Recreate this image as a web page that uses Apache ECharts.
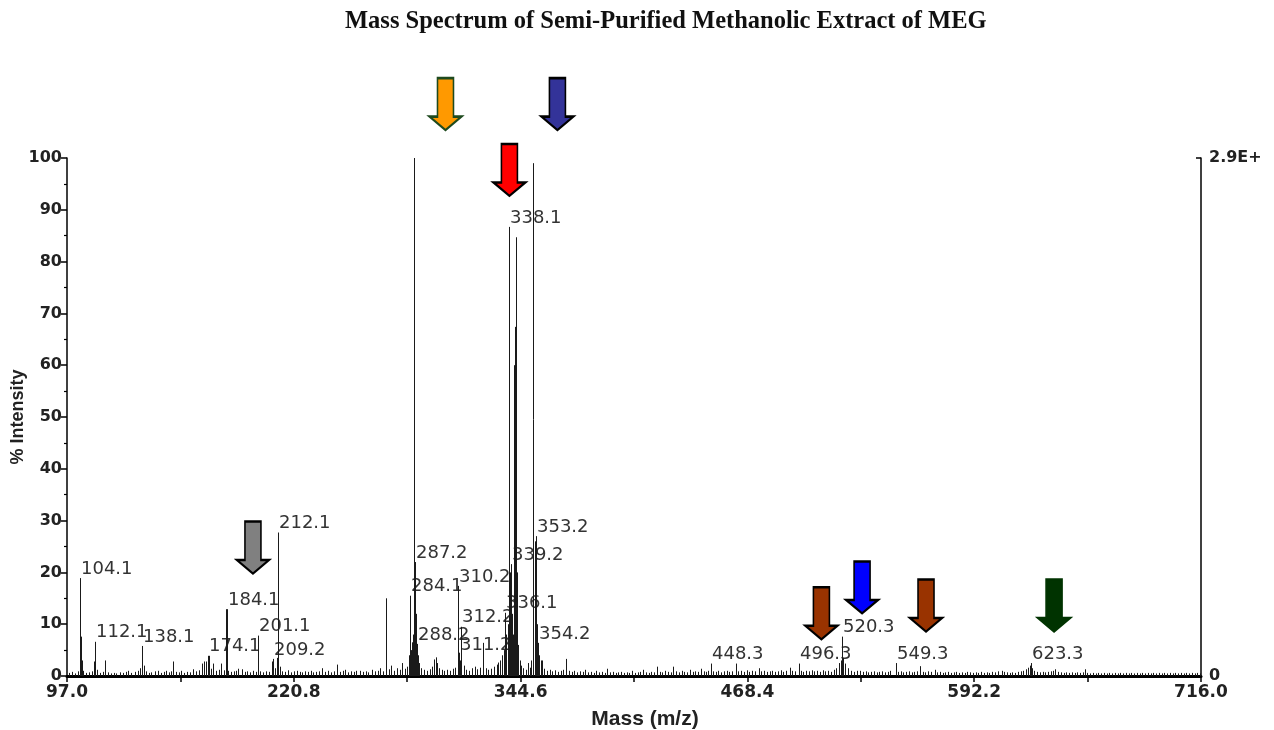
<!DOCTYPE html>
<html><head><meta charset="utf-8">
<script src="https://cdn.jsdelivr.net/npm/echarts@6/dist/echarts.min.js"></script>
<style>html,body{margin:0;padding:0;background:#fff}#c{width:1274px;height:730px}</style>
</head><body><div id="c"></div>
<script>
const chartTitle = 'Mass Spectrum of Semi-Purified Methanolic Extract of MEG';
const xName = 'Mass (m/z)';
const yName = '% Intensity';
const xTickValues = [97.0,158.9,220.8,282.7,344.6,406.5,468.4,530.3,592.2,654.1,716.0];
const xLabelValues = [97.0,220.8,344.6,468.4,592.2,716.0];
const rightAxisTop = '2.9E+';

// labelled peaks (m/z, % intensity)
const labelMass = [104.1,112.1,138.1,174.1,184.1,201.1,209.2,212.1,284.1,287.2,288.2,310.2,311.2,312.2,336.1,338.1,339.2,353.2,354.2,448.3,496.3,520.3,549.3,623.3];
const labelIntensity = [18.9,6.6,5.8,3.9,12.9,7.8,3.3,27.7,15.5,22.0,6.2,17.4,4.2,9.5,12.2,86.7,21.6,27.0,6.4,2.4,2.4,7.6,2.5,2.5];

// other resolved peaks (m/z, % intensity)
const majorPeaks = [
  [104.6,7.6],[105.2,3.0],[111.9,2.8],[117.9,3.0],[138.9,2.0],[155.0,2.8],[166.0,1.3],
  [174.3,3.9],[183.8,12.9],[211.6,3.5],[271.3,15.0],
  [283.5,4.0],[284.6,5.0],[285.2,6.5],[285.8,8.0],[286.4,100],[286.8,21.0],[287.7,12.0],[288.7,4.0],[289.3,2.5],
  [310.8,4.5],[311.7,3.0],
  [333.5,3.0],[334.5,4.0],[335.3,5.0],[336.8,8.0],[337.5,10.0],[338.6,20.0],[339.8,12.0],[340.5,8.0],
  [340.8,30.0],[341.1,60.0],[341.2,20.0],[341.6,67.4],[342.0,84.7],[342.5,20.0],[343.2,6.0],[344.0,3.0],[345.0,2.0],
  [350.5,3.0],[351.2,8.0],[351.6,99.0],[352.2,26.0],[352.7,20.0],[353.7,10.0],[354.8,4.0],[355.5,3.0],
  [520.8,3.5]
];

// baseline / minor peaks (m/z, % intensity)
const minorPeaks = [
  [98,0.6],[100,0.8],[101.5,0.5],[103,0.9],[106,1.0],[107.5,0.6],[109,0.7],[110.5,0.9],[113.5,1.2],[115,0.6],
  [116.5,0.8],[119.5,0.7],[121,0.5],[122.5,0.6],[124,0.5],[126,0.7],[127.5,0.6],[129,0.8],[130.5,1.0],[132,0.6],
  [134,0.8],[135.5,1.0],[136.8,1.5],[140,0.9],[141.5,0.6],[143,0.7],[145,0.9],[146.8,1.0],[148.5,0.6],[150,0.8],
  [151,1.0],[152.5,0.7],[154,0.9],[156.5,0.8],[158,0.7],[159.5,1.0],[161,0.6],[162.5,0.8],[164,0.7],[167.5,0.9],
  [169,1.1],[170.5,2.4],[171.8,2.8],[172.9,2.8],[175.5,1.4],[176.9,2.4],[178.5,1.0],[180,1.2],[181.2,2.4],[182.5,1.1],
  [185,1.0],[186.5,0.8],[188,0.9],[189.2,1.0],[190.5,1.4],[192.4,1.3],[194,0.8],[195.5,0.9],[197,0.7],[198.8,1.0],
  [200,0.8],[202.5,0.9],[204,0.7],[205.5,0.9],[207,0.8],[208.9,2.8],[210.5,1.5],[213,1.8],[214.5,0.9],[216,0.8],
  [217.5,1.1],[219,0.7],[221,0.9],[222.5,1.0],[224,0.8],[225.5,0.7],[227,0.9],[228.5,0.8],[230,1.0],[231.5,0.7],
  [233,0.8],[234.5,0.9],[236.2,1.5],[238,0.8],[239.5,1.0],[241,0.7],[242.5,0.9],[244.2,2.2],[246,0.8],[247.5,1.0],
  [249,1.2],[250.5,0.7],[252,0.9],[253.5,0.8],[255,1.0],[257,1.0],[258.5,0.8],[260,0.9],[261.5,0.7],[263.5,1.2],
  [265,0.9],[266.5,1.0],[268,1.5],[269.5,0.9],[272.5,1.3],[274,2.0],[275.5,1.0],[277.4,1.5],[279,1.2],[280,2.5],
  [281.5,1.4],[282.7,1.8],[290.5,1.5],[292,1.2],[293.5,1.0],[295,1.3],[296.5,1.8],[297.5,3.2],[298.2,3.6],[299,2.5],
  [300,1.5],[301.5,1.2],[303,1.0],[304.5,1.2],[306,1.0],[307.5,1.4],[309,1.6],[313.5,2.0],[315,1.2],[316.5,1.0],
  [318,1.5],[319.5,1.8],[321,1.3],[322.5,1.6],[324.1,6.4],[325.5,1.5],[327,1.2],[328.5,1.4],[330,1.8],[331.5,2.2],
  [332.5,2.6],[346,1.5],[347.5,1.2],[348.8,2.5],[350,1.6],[356.3,3.0],[357.5,1.4],[359,1.0],[360.5,1.2],[362,0.9],
  [363.5,1.1],[365,0.8],[366.5,1.0],[368,1.2],[369.4,3.3],[371,1.0],[372.5,0.8],[374,1.0],[375.5,0.7],[377,0.9],
  [378.5,0.8],[380,1.2],[381.5,0.7],[383,0.8],[384.5,0.6],[386,1.0],[387.5,0.7],[389,0.8],[390.5,0.6],[392,1.4],
  [393.5,0.7],[395,0.8],[396.5,0.6],[398,0.7],[399.5,0.8],[401,0.6],[402.5,0.7],[404,0.6],[405.5,1.0],[407,0.6],
  [408.5,0.7],[410,0.8],[411.5,1.2],[413,0.7],[414.5,0.6],[416,0.8],[417.5,0.7],[418.9,1.8],[420.5,0.8],[422,0.7],
  [423.5,1.0],[425,0.8],[426.5,0.7],[427.8,1.8],[429.5,0.9],[431,0.7],[432.5,1.0],[434,0.8],[435.5,0.7],[437,1.2],
  [438.5,0.8],[440,0.9],[441.5,0.8],[443,1.4],[444.5,0.9],[446,0.8],[447,1.0],[449.5,0.9],[451,0.8],[452.5,1.0],
  [454,0.7],[455.5,0.9],[457,1.0],[458.5,0.8],[460,0.9],[462,2.4],[463.5,0.9],[465,1.0],[466.5,0.8],[468,1.1],
  [469.5,0.8],[471,1.0],[472.5,0.9],[474.7,1.5],[476,0.9],[477.5,1.0],[479,0.8],[480.5,0.9],[482,1.0],[483.5,0.8],
  [485,0.9],[486.5,1.1],[488,0.8],[489.5,1.0],[491.6,1.6],[493,1.0],[494.5,0.9],[497.5,1.0],[499,0.8],[500.5,1.0],
  [502,0.9],[503.5,1.1],[505,0.9],[506.5,1.0],[508,0.8],[509.5,1.1],[511,0.9],[512.5,1.0],[514,0.8],[515.5,1.2],
  [517,1.5],[518.5,2.5],[519.5,3.0],[521.5,2.4],[523.5,1.5],[525,1.0],[526.5,0.8],[528,1.0],[530,1.0],[531.5,0.8],
  [533,0.9],[534.5,0.7],[536,0.8],[537.5,0.9],[539,0.7],[540.5,0.8],[542,0.9],[543.5,0.7],[545,0.8],[546.5,1.0],
  [550.5,0.8],[552,0.9],[553.5,0.7],[555,0.8],[556.5,0.9],[558,0.7],[559.5,0.8],[561,0.9],[562.6,1.9],[564,0.8],
  [565.5,0.7],[567,0.9],[568.5,0.8],[570.8,1.2],[572,0.7],[573.5,0.8],[575,0.6],[576.5,0.7],[578,0.8],[579.5,0.6],
  [581,0.7],[582.5,0.8],[584,0.6],[585.5,0.7],[587,0.6],[588.5,0.8],[590,0.7],[591.5,0.6],[593,0.7],[594.5,0.6],
  [596,0.8],[597.5,0.6],[599,0.7],[600.5,0.6],[602,0.8],[603.5,0.7],[605,0.9],[607.2,1.0],[608.5,0.8],[610,0.7],
  [611.5,0.6],[613,0.7],[614.5,0.6],[616,0.8],[617.5,0.9],[619,1.0],[620.5,1.3],[621.5,1.6],[622.5,2.0],[624,1.5],
  [625,1.0],[626.5,0.8],[628,0.7],[629.5,0.8],[631,0.7],[632.5,0.8],[634,0.9],[635,1.0],[636.4,1.3],[638,0.8],
  [639.5,0.7],[641,0.6],[642.5,0.7],[644,0.6],[645.5,0.7],[647,0.6],[648.5,0.7],[650,0.6],[651.5,0.7],[652.7,1.3],
  [654,0.6],[655.5,0.5],[657,0.6],[658.5,0.5],[660,0.6],[661.5,0.5],[663,0.6],[664.5,0.5],[666,0.6],[667.5,0.5],
  [669,0.6],[670.5,0.5],[672,0.6],[673.5,0.5],[675,0.6],[676.5,0.5],[678,0.6],[679.5,0.5],[681,0.6],[682.5,0.5],
  [684,0.6],[685.5,0.5],[687,0.6],[688.5,0.5],[690,0.6],[691.5,0.5],[693,0.6],[694.5,0.5],[696,0.6],[697.5,0.5],
  [699,0.6],[700.5,0.5],[702,0.6],[703.5,0.5],[705,0.6],[706.5,0.5],[708,0.6],[709.5,0.5],[711,0.6],[712.5,0.5],
  [714,0.6],[715.5,0.5]
];

// annotation arrows: position (m/z, % intensity of arrow centre) and colours
const arrowMass = [303.6,364.7,338.5,198.5,508.8,531.0,565.9,635.8];
const arrowLevel = [110.4,110.4,97.7,24.8,12.1,17.1,13.6,13.6];
const arrowFill = ['#FF9900','#333399','#FF0000','#808080','#993300','#0000FF','#993300','#003300'];
const arrowStroke = ['#1E4A1E','#000000','#000000','#000000','#000000','#000000','#000000','#003300'];

const stickData = [];
labelMass.forEach((m,i)=>stickData.push([m,labelIntensity[i]]));
majorPeaks.forEach(p=>stickData.push(p));
minorPeaks.forEach(p=>stickData.push(p));
const labelData = labelMass.map((m,i)=>[m,labelIntensity[i],m.toFixed(1)]);
const arrowData = arrowMass.map((m,i)=>({value:[m,arrowLevel[i]],itemStyle:{color:arrowFill[i],borderColor:arrowStroke[i],borderWidth:2,opacity:1}}));

const chart = echarts.init(document.getElementById('c'), null, {renderer:'canvas'});
const axisFont = {fontFamily:'DejaVu Sans', fontWeight:'bold', fontSize:16, color:'#222'};
chart.setOption({
  animation:false,
  backgroundColor:'#fff',
  title:{text:chartTitle,left:340,top:4,textStyle:{fontFamily:'Liberation Serif',fontWeight:'bold',fontSize:24.5,color:'#111'}},
  grid:{left:67,right:73,top:158,bottom:54,containLabel:false,outerBoundsMode:'none'},
  xAxis:{type:'value',min:97,max:716,name:xName,nameLocation:'middle',nameGap:33,
    nameTextStyle:{fontFamily:'Liberation Sans',fontWeight:'bold',fontSize:21,color:'#222',padding:[0,0,0,22]},
    axisLine:{show:true,onZero:false,lineStyle:{color:'#000',width:3}},
    axisTick:{show:true,length:6,lineStyle:{color:'#000',width:1.5},customValues:xTickValues},
    axisLabel:{...axisFont,fontSize:17,margin:8,customValues:xLabelValues,formatter:v=>Number(v).toFixed(1)},
    splitLine:{show:false}},
  yAxis:[
    {type:'value',min:0,max:100,interval:10,position:'left',name:yName,nameLocation:'middle',nameGap:40,nameRotate:90,
     nameMoveOverlap:false,
     nameTextStyle:{fontFamily:'Liberation Sans',fontWeight:'bold',fontSize:18,color:'#222'},
     axisLine:{show:true,lineStyle:{color:'#000',width:1.5}},
     axisTick:{show:true,length:6,lineStyle:{color:'#000',width:1.5}},
     minorTick:{show:true,splitNumber:2,length:3,lineStyle:{color:'#000',width:1.2}},
     axisLabel:{...axisFont,margin:5},
     splitLine:{show:false}},
    {type:'value',min:0,max:100,position:'right',
     axisLine:{show:true,lineStyle:{color:'#000',width:1.5}},
     axisTick:{show:true,inside:true,length:5,customValues:[100],lineStyle:{color:'#000',width:1.5}},
     axisLabel:{...axisFont,margin:8,customValues:[0,100],formatter:v=>v===0?'0':rightAxisTop},
     splitLine:{show:false}}
  ],
  series:[
    {type:'custom',name:'labels',z:2,data:labelData,
     renderItem:(params,api)=>{
       const p=api.coord([api.value(0),api.value(1)]);
       return {type:'text',x:Math.round(p[0])+1,y:p[1]-9,
         style:{text:labelData[params.dataIndex][2],font:'18px "DejaVu Sans"',fill:'#333',align:'left',verticalAlign:'middle'}};
     }},
    {type:'custom',name:'spectrum',z:3,data:stickData,
     renderItem:(params,api)=>{
       const x=api.value(0),y=api.value(1);
       const p0=api.coord([x,0]),p1=api.coord([x,y]);
       const px=Math.round(p0[0])+0.5;
       return {type:'line',shape:{x1:px,y1:p0[1],x2:px,y2:p1[1]},style:{stroke:'#1a1a1a',lineWidth:1}};
     }},
    {type:'scatter',name:'arrows',z:4,clip:false,data:arrowData,
     symbol:'path://M8.5,0 L25.5,0 L25.5,40 L34,40 L17,54 L0,40 L8.5,40 Z',
     symbolSize:[32,52],symbolKeepAspect:false,silent:true,
     itemStyle:{opacity:1},emphasis:{disabled:true}}
  ]
});
</script>
</body></html>
